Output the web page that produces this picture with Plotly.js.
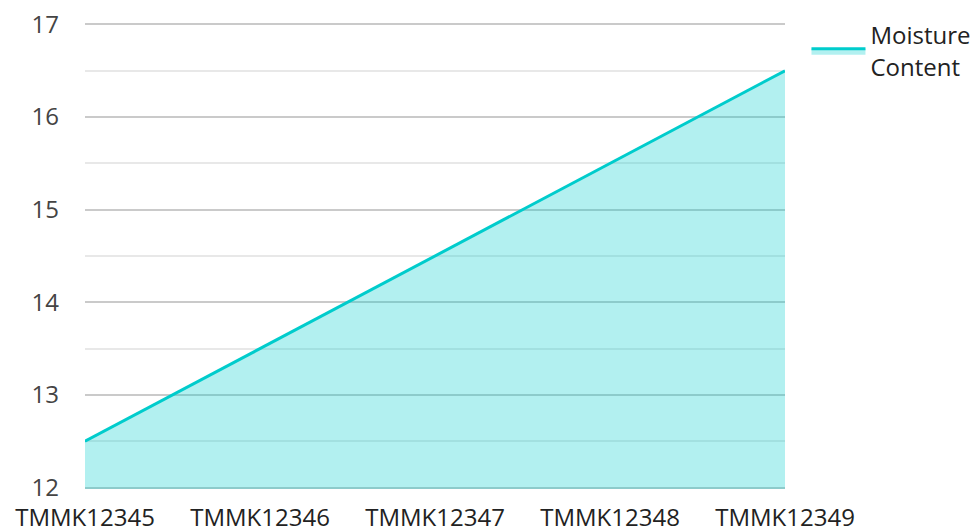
<!DOCTYPE html>
<html>
<head>
<meta charset="utf-8">
<script src="https://cdn.plot.ly/plotly-3.0.1.min.js"></script>
<style>html,body{margin:0;padding:0;background:#fff;}#chart{width:976px;height:529px;}</style>
</head>
<body>
<div id="chart"></div>
<script>
const categories = ["TMMK12345", "TMMK12346", "TMMK12347", "TMMK12348", "TMMK12349"];
const moistureContent = [12.5, 13.5, 14.5, 15.5, 16.5];
const seriesName = "Moisture<br>Content";

const trace = {
  type: "scatter",
  mode: "lines",
  x: categories,
  y: moistureContent,
  name: seriesName,
  fill: "tozeroy",
  fillcolor: "rgba(0,204,204,0.3)",
  line: {color: "#00cccc", width: 3}
};

const layout = {
  width: 976,
  height: 529,
  margin: {l: 85, r: 191, t: 23, b: 40},
  paper_bgcolor: "#ffffff",
  plot_bgcolor: "#ffffff",
  font: {family: "'Open Sans', sans-serif", size: 24, color: "#333333"},
  showlegend: true,
  legend: {xref: "container", yref: "container", x: 0.8263, xanchor: "left", y: 0.9754, yanchor: "top", itemwidth: 54, font: {size: 24, color: "#222222"}, bgcolor: "rgba(0,0,0,0)"},
  xaxis: {
    type: "category",
    range: [0, 4],
    showgrid: false,
    zeroline: false,
    showline: false,
    ticks: "",
    automargin: false,
    ticklabelstandoff: 12,
    tickfont: {size: 24, color: "#222222"}
  },
  yaxis: {
    range: [11.985, 17.015],
    tickvals: [12, 13, 14, 15, 16, 17],
    showgrid: true,
    gridcolor: "rgba(150,150,150,0.5)",
    gridwidth: 2,
    zeroline: false,
    showline: false,
    ticks: "",
    automargin: false,
    ticklabelstandoff: 25,
    tickfont: {size: 24, color: "#444444"},
    minor: {tickvals: [12.5, 13.5, 14.5, 15.5, 16.5], showgrid: true, gridcolor: "rgba(180,180,180,0.3)", gridwidth: 2}
  }
};

Plotly.newPlot("chart", [trace], layout, {displayModeBar: false, staticPlot: true});
</script>
</body>
</html>
